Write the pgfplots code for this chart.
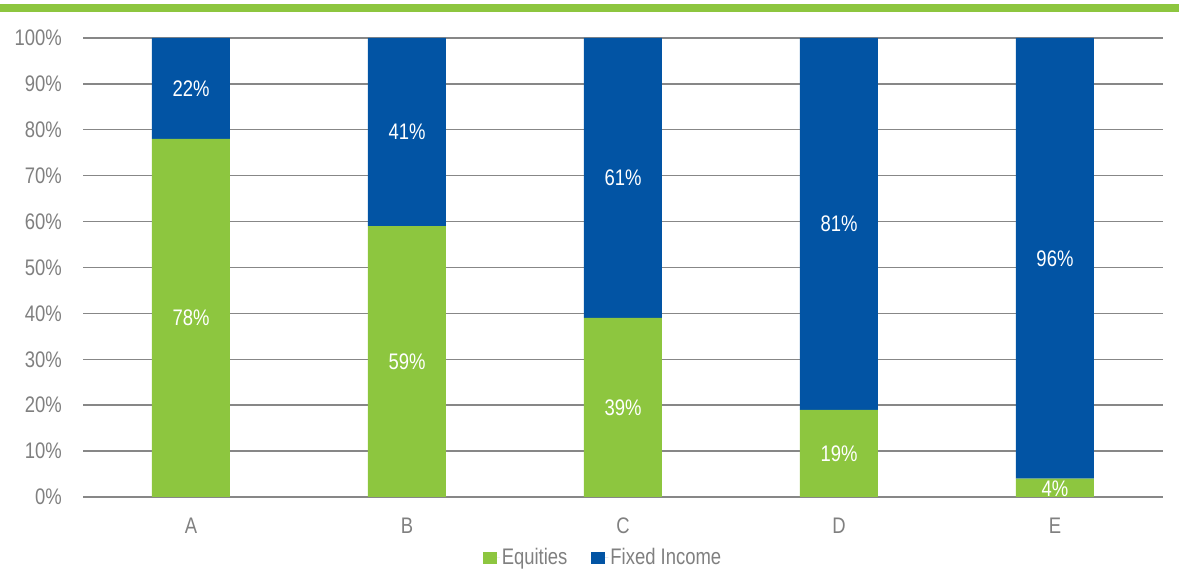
\documentclass[border=0pt]{standalone}
\usepackage{pgfplots}
\pgfplotsset{compat=1.18}
\usepackage{fontspec}
\setmainfont{Liberation Sans}[FakeStretch=0.82]
\definecolor{eqgreen}{HTML}{8DC63F}
\definecolor{fiblue}{HTML}{0254A4}
\definecolor{txtgray}{HTML}{808080}
\definecolor{gridgray}{HTML}{878787}
\newcommand{\lblfont}{\fontsize{22.5}{26}\selectfont}
\begin{document}
\begin{tikzpicture}
\useasboundingbox (0,0) rectangle (1179pt,570pt);
\fill[eqgreen] (0,557.5pt) rectangle (1179pt,566pt);
\begin{axis}[
  at={(83pt,73pt)}, anchor=south west,
  scale only axis, width=1080pt, height=459pt,
  ybar stacked, bar width=78pt,
  xmin=-0.5, xmax=4.5, ymin=0, ymax=100,
  xtick={0,1,2,3,4}, xticklabels={A,B,C,D,E},
  ytick={0,10,20,30,40,50,60,70,80,90,100},
  yticklabels={0\%,10\%,20\%,30\%,40\%,50\%,60\%,70\%,80\%,90\%,100\%},
  axis line style={draw=none},
  major tick length=0pt,
  ymajorgrids, grid style={gridgray, line width=1.4pt},
  tick label style={font=\lblfont, text=txtgray},
  yticklabel style={inner sep=0pt, xshift=-21pt},
  xticklabel style={inner sep=0pt, yshift=-21pt},
  legend style={at={(axis description cs:0.4815,-0.131)}, anchor=center, draw=none,
    font=\lblfont, text=txtgray, legend columns=2,
    /tikz/every even column/.append style={column sep=22pt}},
  legend cell align=left,
  legend image code/.code={\path (0pt,0pt) -- (17pt,0pt);\fill[#1] (0pt,-7pt) rectangle (14pt,5pt);},
]
\addplot[fill=eqgreen, draw=none] coordinates {(0,78) (1,59) (2,39) (3,19) (4,4)};
\addlegendentry{Equities}
\addplot[fill=fiblue, draw=none] coordinates {(0,22) (1,41) (2,61) (3,81) (4,96)};
\addlegendentry{Fixed Income}
\end{axis}
\begin{axis}[
  at={(83pt,73pt)}, anchor=south west,
  scale only axis, width=1080pt, height=459pt,
  xmin=-0.5, xmax=4.5, ymin=0, ymax=100, hide axis,
]
\addplot[only marks, mark=none, nodes near coords, point meta=explicit symbolic,
  nodes near coords style={anchor=center, text=white, font=\lblfont, inner sep=0pt}]
  coordinates {(0,39)[78\%] (1,29.5)[59\%] (2,19.5)[39\%] (3,9.5)[19\%] (4,1.8)[4\%]
               (0,89)[22\%] (1,79.5)[41\%] (2,69.5)[61\%] (3,59.5)[81\%] (4,52)[96\%]};
\end{axis}
\end{tikzpicture}
\end{document}
